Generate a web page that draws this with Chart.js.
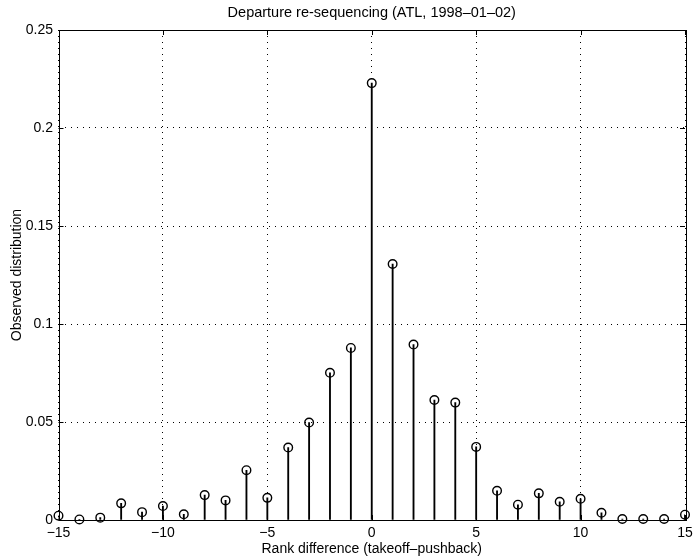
<!DOCTYPE html>
<html>
<head>
<meta charset="utf-8">
<script src="https://cdn.jsdelivr.net/npm/chart.js@4"></script>
<style>
  html, body { margin: 0; padding: 0; background: #fff; }
  #wrap { width: 694px; height: 560px; }
</style>
</head>
<body>
<div id="wrap"><canvas id="stem" width="694" height="560"></canvas></div>
<script>
// rank difference (takeoff - pushback) and observed share of departures
const ranks = [-15, -14, -13, -12, -11, -10, -9, -8, -7, -6, -5, -4, -3, -2, -1,
  0, 1, 2, 3, 4, 5, 6, 7, 8, 9, 10, 11, 12, 13, 14, 15];
const observed = [0.0022, 0.0003, 0.0012, 0.0085, 0.0040, 0.0071, 0.0029, 0.0127,
  0.0100, 0.0254, 0.0113, 0.0370, 0.0497, 0.0751, 0.0878, 0.2229, 0.1306, 0.0895,
  0.0612, 0.0599, 0.0373, 0.0149, 0.0078, 0.0136, 0.0093, 0.0108, 0.0037, 0.0005,
  0.0005, 0.0005, 0.0027];
const xTicks = [-15, -10, -5, 0, 5, 10, 15];
const yTicks = [0, 0.05, 0.1, 0.15, 0.2, 0.25];

const FONT = 'Liberation Sans, Arial, Helvetica, sans-serif';
const points = ranks.map((r, i) => ({ x: r, y: observed[i] }));

// box around the axes with inward tick marks on all four sides
const boxTicks = {
  id: 'boxTicks',
  afterDraw(chart) {
    const { ctx, chartArea: a, scales } = chart;
    const len = 5;
    ctx.save();
    ctx.strokeStyle = '#000';
    ctx.lineWidth = 1;
    ctx.beginPath();
    xTicks.forEach(v => {
      const px = Math.round(scales.x.getPixelForValue(v)) + 0.5;
      ctx.moveTo(px, a.bottom); ctx.lineTo(px, a.bottom - len);
      ctx.moveTo(px, a.top); ctx.lineTo(px, a.top + len);
    });
    yTicks.forEach(v => {
      const py = Math.round(scales.y.getPixelForValue(v)) + 0.5;
      ctx.moveTo(a.left, py); ctx.lineTo(a.left + len, py);
      ctx.moveTo(a.right, py); ctx.lineTo(a.right - len, py);
    });
    ctx.stroke();
    ctx.strokeRect(Math.round(a.left) + 0.5, Math.round(a.top) + 0.5,
      Math.round(a.right - a.left), Math.round(a.bottom - a.top));
    ctx.restore();
  }
};

new Chart(document.getElementById('stem'), {
  type: 'bar',
  data: {
    datasets: [
      {
        type: 'scatter',
        data: points,
        order: 0,
        clip: false,
        pointStyle: 'circle',
        pointRadius: 4.3,
        pointBorderWidth: 1.4,
        pointBorderColor: '#000',
        pointBackgroundColor: 'rgba(0,0,0,0)'
      },
      {
        type: 'bar',
        data: points,
        order: 1,
        barThickness: 1.2,
        backgroundColor: '#000',
        borderWidth: 0
      }
    ]
  },
  plugins: [boxTicks],
  options: {
    responsive: false,
    animation: false,
    layout: { padding: 0 },
    plugins: {
      legend: { display: false },
      tooltip: { enabled: false }
    },
    scales: {
      x: {
        type: 'linear',
        offset: false,
        min: -15,
        max: 15,
        afterBuildTicks: s => { s.ticks = xTicks.map(v => ({ value: v })); },
        afterFit: s => { s.height = 40; s.paddingLeft = 0; s.paddingRight = 9; },
        ticks: {
          color: '#000',
          font: { family: FONT, size: 14 },
          padding: 4.5,
          maxRotation: 0,
          autoSkip: false,
          callback: v => String(v).replace('-', '\u2212')
        },
        grid: { color: '#000', lineWidth: 1, drawTicks: false, offset: false },
        border: { display: false, dash: [1, 5] },
        title: {
          display: true,
          text: 'Rank difference (takeoff\u2013pushback)',
          color: '#000',
          font: { family: FONT, size: 14 },
          padding: { top: 0, bottom: 2.6 }
        }
      },
      // top axis only carries the plot title, centred over the axes
      top: {
        type: 'linear',
        position: 'top',
        min: -15,
        max: 15,
        afterFit: s => { s.height = 30; s.paddingLeft = 0; s.paddingRight = 0; },
        ticks: { display: false },
        grid: { display: false },
        border: { display: false },
        title: {
          display: true,
          text: 'Departure re-sequencing (ATL, 1998\u201301\u201302)',
          color: '#000',
          font: { family: FONT, size: 14.5 },
          padding: { top: 4.3, bottom: 0 }
        }
      },
      y: {
        min: 0,
        max: 0.25,
        afterBuildTicks: s => { s.ticks = yTicks.map(v => ({ value: v })); },
        afterFit: s => { s.width = 58.5; },
        ticks: {
          color: '#000',
          font: { family: FONT, size: 14 },
          padding: 5.5,
          callback: v => String(+v.toFixed(2))
        },
        grid: { color: '#000', lineWidth: 1, drawTicks: false },
        border: { display: false, dash: [1, 5] },
        title: {
          display: true,
          text: 'Observed distribution',
          color: '#000',
          font: { family: FONT, size: 14 },
          padding: { top: 9, bottom: 0 }
        }
      }
    }
  }
});
</script>
</body>
</html>
